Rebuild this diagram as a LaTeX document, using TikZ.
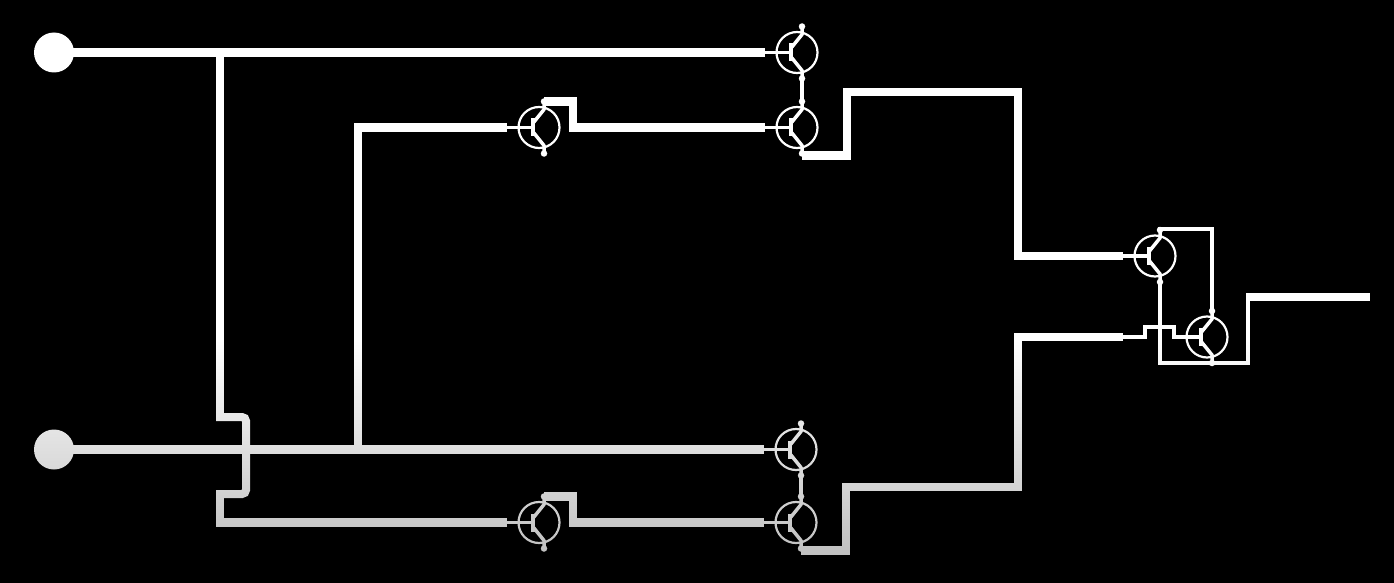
\documentclass[tikz,border=0pt]{standalone}
\usetikzlibrary{fadings}
\tikzfading[name=lowerfade, top color=transparent!100, bottom color=transparent!72]
\tikzset{
  x=1pt,y=-1pt,
  wire/.style={draw=white,line width=8.6pt,line join=miter,line cap=butt},
  midwire/.style={draw=white,line width=4.2pt,line join=miter,line cap=butt},
  stub/.style={draw=white,line width=3.5pt,line cap=butt},
  ring/.style={circle,draw=white,line width=2.2pt,minimum size=41pt,inner sep=0pt},
  pindot/.style={circle,fill=white,inner sep=0pt,minimum size=6.5pt},
  terminal/.style={circle,fill=white,inner sep=0pt,minimum size=40pt},
}
\newcommand{\transistor}[3]{%
  \node[ring] (#1) at (#2,#3) {};
  \path (#1.center)
    +(-32,0) coordinate (#1-w)
    +(-6.5,0) coordinate (#1-b)
    +(-6.5,-9) coordinate (#1-bt)
    +(-6.5,9) coordinate (#1-bb)
    +(-5.5,-5) coordinate (#1-ci)
    +(-5.5,5) coordinate (#1-ei)
    +(5,-18) coordinate (#1-ck)
    +(5,18) coordinate (#1-ek)
    +(5,-26) coordinate (#1-c)
    +(5,26) coordinate (#1-e)
    +(5,28) coordinate (#1-o);
  \draw[stub] (#1-w) -- (#1-b);
  \draw[stub,line width=4pt] (#1-bt) -- (#1-bb);
  \draw[stub,line join=round] (#1-ci) -- (#1-ck) -- (#1-c);
  \draw[stub,line join=round] (#1-ei) -- (#1-ek) -- (#1-e);
  \node[pindot] (#1-cd) at (#1-c) {};
  \node[pindot] (#1-ed) at (#1-e) {};
}
\begin{document}
\begin{tikzpicture}
\useasboundingbox (0,0) rectangle (1394,583);
\fill[black] (0,0) rectangle (1394,583);

% input terminals
\node[terminal] (inA) at (54,52.5) {};
\node[terminal] (inB) at (54,449.5) {};

% transistors
\transistor{ta}{797}{52.5}
\transistor{tb}{797}{127.5}
\transistor{tc}{539}{127.5}
\transistor{td}{796}{449.5}
\transistor{te}{796}{522.5}
\transistor{tf}{539}{522.5}
\transistor{tg}{1155}{256}
\transistor{th}{1207}{337}

% helper points
\coordinate (jA) at (220,52.5);
\coordinate (jB) at (358,449.5);
\coordinate (jC) at (358,127.5);
\coordinate (bridgeT) at (220,417);
\coordinate (bridgeB) at (220,494);
\coordinate (bridgeR) at (246,417);
\coordinate (bridgeS) at (246,494);
\coordinate (stepT) at (216,417);
\coordinate (stepB) at (216,494);
\coordinate (lowCorner) at (220,522.5);
\coordinate (outUp) at (847,92);
\coordinate (outDn) at (846,487);
\coordinate (busT) at (1018,92);
\coordinate (busB) at (1018,487);
\coordinate (out) at (1370,297);
\coordinate (outStart) at (1246,297);
\coordinate (outRise) at (1248,297);
\coordinate (loopX) at (1248,363);
\coordinate (loopL) at (1160,363);
\coordinate (loopT) at (1212,229);
\coordinate (loopD) at (1212,363);
\coordinate (hopA) at (1123,337);
\coordinate (hopB) at (1145,337);
\coordinate (hopC) at (1145,327);
\coordinate (hopD) at (1174,327);
\coordinate (hopE) at (1174,337);

% input wires
\draw[wire] (inA.center) -- (ta-w);
\draw[wire] (inB.center) -- (td-w);
\draw[wire] (jB) -- (jC) -- (tc-w);

% bridged wire from input A to the lower branch
\draw[wire,line width=8.2pt] (jA) -- (bridgeT);
\draw[wire,line width=8pt,rounded corners=4pt] (stepT) -- (bridgeR) -- (bridgeS) -- (stepB);
\draw[wire] (bridgeB) -- (lowCorner) -- (tf-w);

% collector of inverter to the second series transistor
\draw[wire] (tc-c) -- (573,101.5) -- (573,127.5) -- (tb-w);
\draw[wire] (tf-c) -- (573,496.5) -- (573,522.5) -- (te-w);

% series links
\draw[midwire] (ta-e) -- (tb-c);
\draw[midwire] (td-e) -- (te-c);

% outputs of the two stacks
\draw[wire] (tb-o) -- (847,155.5) -- (outUp) -- (busT) -- (1018,256) -- (tg-w);
\draw[wire] (te-o) -- (846,550.5) -- (outDn) -- (busB) -- (1018,337) -- (hopA);

% final stage
\draw[midwire,line width=3.6pt] (hopA) -- (hopB) -- (hopC) -- (hopD) -- (hopE) -- (th-b);
\draw[midwire] (tg-c) -- (tg-c |- loopT) -- (loopT) -- (th-c);
\draw[midwire] (tg-e) -- (loopL) -- (loopX) -- (outRise);
\draw[wire] (outStart) -- (out);
\draw[midwire] (th-e) -- (loopD);

% overall dimming towards the bottom
\fill[black,path fading=lowerfade] (0,340) rectangle (1394,583);
\end{tikzpicture}
\end{document}
